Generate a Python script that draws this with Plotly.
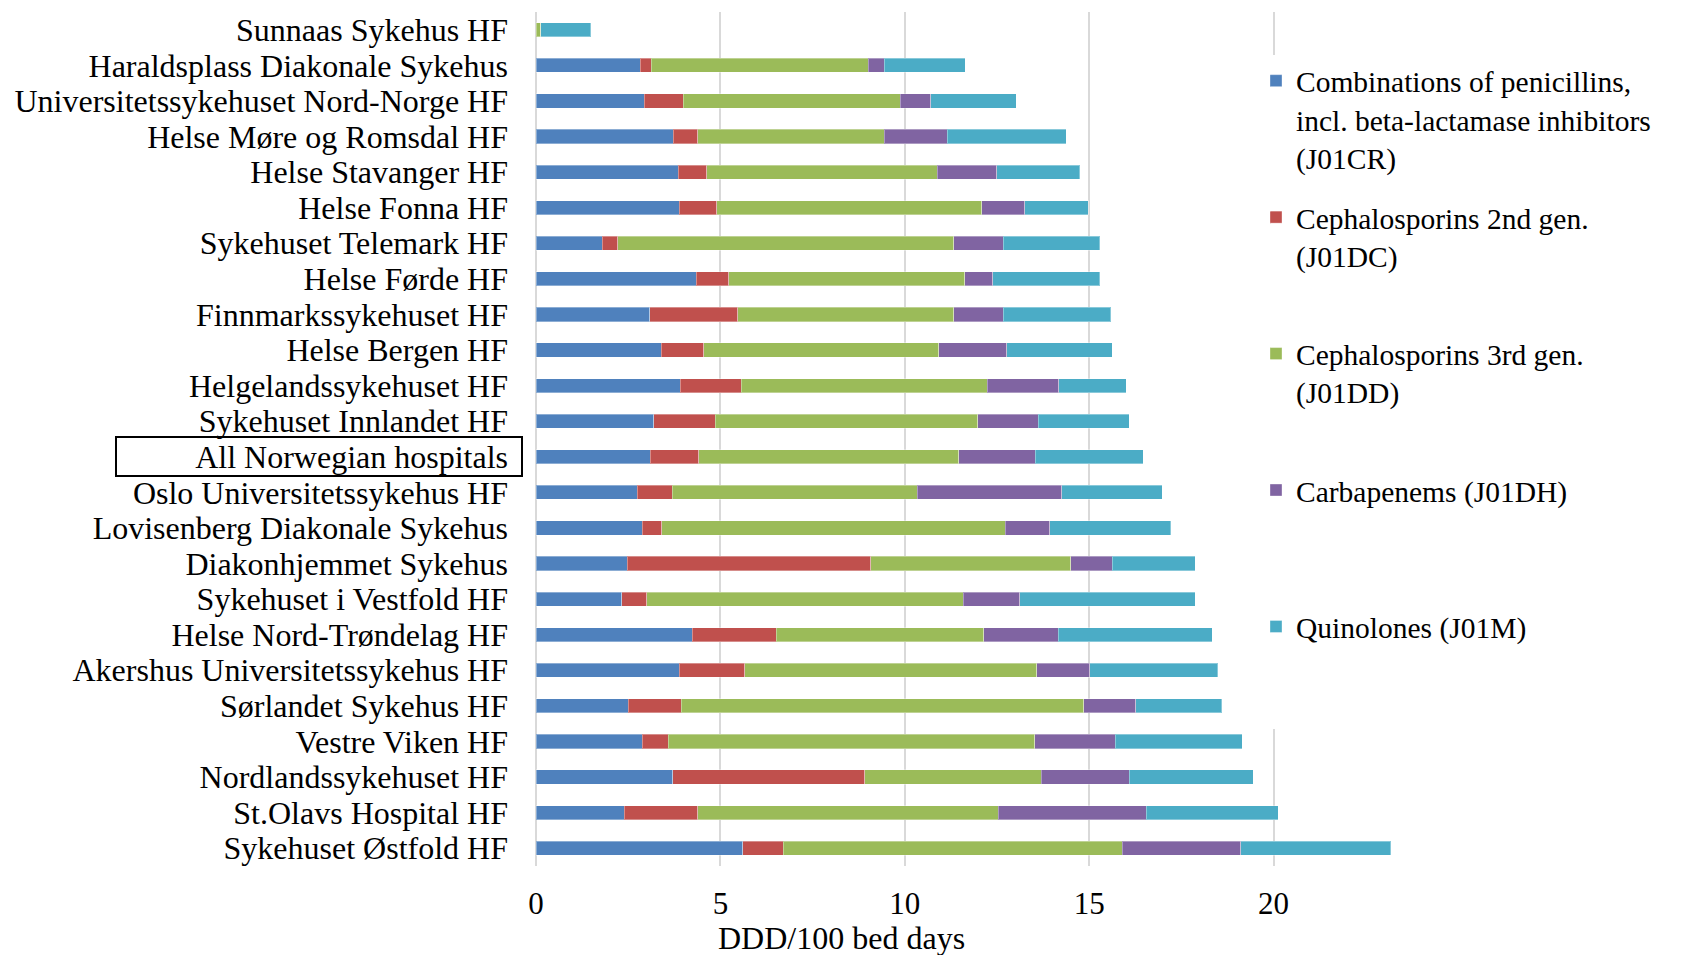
import plotly.graph_objects as go

hospitals = [
    "Sunnaas Sykehus HF", "Haraldsplass Diakonale Sykehus", "Universitetssykehuset Nord-Norge HF",
    "Helse Møre og Romsdal HF", "Helse Stavanger HF", "Helse Fonna HF", "Sykehuset Telemark HF",
    "Helse Førde HF", "Finnmarkssykehuset HF", "Helse Bergen HF", "Helgelandssykehuset HF",
    "Sykehuset Innlandet HF", "All Norwegian hospitals", "Oslo Universitetssykehus HF",
    "Lovisenberg Diakonale Sykehus", "Diakonhjemmet Sykehus", "Sykehuset i Vestfold HF",
    "Helse Nord-Trøndelag HF", "Akershus Universitetssykehus HF", "Sørlandet Sykehus HF",
    "Vestre Viken HF", "Nordlandssykehuset HF", "St.Olavs Hospital HF", "Sykehuset Østfold HF",
]

penicillin_comb_J01CR = [0.00, 2.82, 2.93, 3.72, 3.86, 3.88, 1.80, 4.34, 3.08, 3.40, 3.91, 3.19,
                         3.10, 2.74, 2.88, 2.47, 2.33, 4.23, 3.89, 2.50, 2.88, 3.71, 2.39, 5.61]
ceph2_J01DC = [0.00, 0.31, 1.06, 0.66, 0.77, 1.02, 0.42, 0.88, 2.39, 1.15, 1.66, 1.67,
               1.31, 0.96, 0.53, 6.60, 0.67, 2.29, 1.77, 1.44, 0.70, 5.20, 1.99, 1.09]
ceph3_J01DD = [0.13, 5.88, 5.88, 5.06, 6.25, 7.19, 9.11, 6.41, 5.86, 6.37, 6.67, 7.12,
               7.05, 6.64, 9.31, 5.43, 8.58, 5.62, 7.92, 10.91, 9.95, 4.79, 8.15, 9.20]
carbapenems_J01DH = [0.00, 0.43, 0.84, 1.71, 1.61, 1.16, 1.34, 0.75, 1.34, 1.85, 1.93, 1.64,
                     2.08, 3.92, 1.21, 1.13, 1.53, 2.02, 1.43, 1.41, 2.18, 2.39, 4.01, 3.21]
quinolones_J01M = [1.36, 2.20, 2.31, 3.23, 2.25, 1.73, 2.61, 2.91, 2.92, 2.86, 1.84, 2.46,
                   2.92, 2.72, 3.28, 2.24, 4.76, 4.17, 3.48, 2.33, 3.44, 3.36, 3.58, 4.06]

series_names = [
    "Combinations of penicillins,<br>incl. beta-lactamase inhibitors<br>(J01CR)",
    "Cephalosporins 2nd gen.<br>(J01DC)<br> ",
    "Cephalosporins 3rd gen.<br>(J01DD)<br> ",
    "Carbapenems (J01DH)<br> <br> ",
    "Quinolones (J01M)<br> <br> ",
]
series_values = [penicillin_comb_J01CR, ceph2_J01DC, ceph3_J01DD, carbapenems_J01DH, quinolones_J01M]
colors = ["#4F81BD", "#C0504D", "#9BBB59", "#8064A2", "#4BACC6"]

x_ticks = [0, 5, 10, 15, 20]

FONT = "Liberation Serif, Times New Roman, serif"
OFF = 8  # page body margin
W, H = 1684 - OFF, 955 - OFF
ML, MR, MT, MB = 536 - OFF, 285, 12 - OFF, 89
PW, PH = W - ML - MR, H - MT - MB

fig = go.Figure()
for i, (name, vals, col) in enumerate(zip(series_names, series_values, colors)):
    fig.add_trace(go.Bar(
        y=hospitals, x=vals, name=name, orientation="h",
        marker=dict(color=col, line=dict(color="rgba(255,255,255,0.35)", width=1)),
        legendgroup=f"g{i}",
    ))

def px_to_paper_x(px):
    return (px - OFF - ML) / PW

def px_to_paper_y(py):
    return (H - MB - (py - OFF)) / PH

# box around "All Norwegian hospitals"
fig.add_shape(type="rect", xref="paper", yref="paper",
              x0=px_to_paper_x(116), x1=px_to_paper_x(522),
              y0=px_to_paper_y(476), y1=px_to_paper_y(437),
              line=dict(color="black", width=2), fillcolor="rgba(0,0,0,0)")

fig.add_annotation(text="DDD/100 bed days", xref="paper", yref="paper",
                   x=px_to_paper_x(841), y=px_to_paper_y(938), xanchor="center", yanchor="middle",
                   showarrow=False, font=dict(family=FONT, size=32, color="black"))

fig.update_layout(
    width=W, height=H,
    margin=dict(l=ML, r=MR, t=MT, b=MB, autoexpand=False),
    barmode="stack", bargap=0.6,
    plot_bgcolor="white", paper_bgcolor="white",
    font=dict(family=FONT, size=32, color="black"),
    showlegend=True,
    legend=dict(
        x=px_to_paper_x(1256), y=px_to_paper_y(55), xanchor="left", yanchor="top",
        bgcolor="white", borderwidth=0, font=dict(family=FONT, size=29.5, color="black"),
        traceorder="grouped", tracegroupgap=18.4, valign="top", itemwidth=30,
    ),
    xaxis=dict(
        range=[0, 23.4], tickmode="array", tickvals=x_ticks, ticktext=[str(t) for t in x_ticks],
        showgrid=True, gridcolor="#d9d9d9", gridwidth=1.5,
        zeroline=True, zerolinecolor="#d9d9d9", zerolinewidth=1.5, showline=False,
        ticks="outside", ticklen=10, tickcolor="rgba(0,0,0,0)",
        tickfont=dict(family=FONT, size=31, color="black"),
    ),
    yaxis=dict(
        autorange="reversed", tickmode="linear", dtick=1, showgrid=False, zeroline=False,
        showline=False, ticks="", ticklabelstandoff=27,
        tickfont=dict(family=FONT, size=32, color="black"),
    ),
)

fig.write_html("out.html")
